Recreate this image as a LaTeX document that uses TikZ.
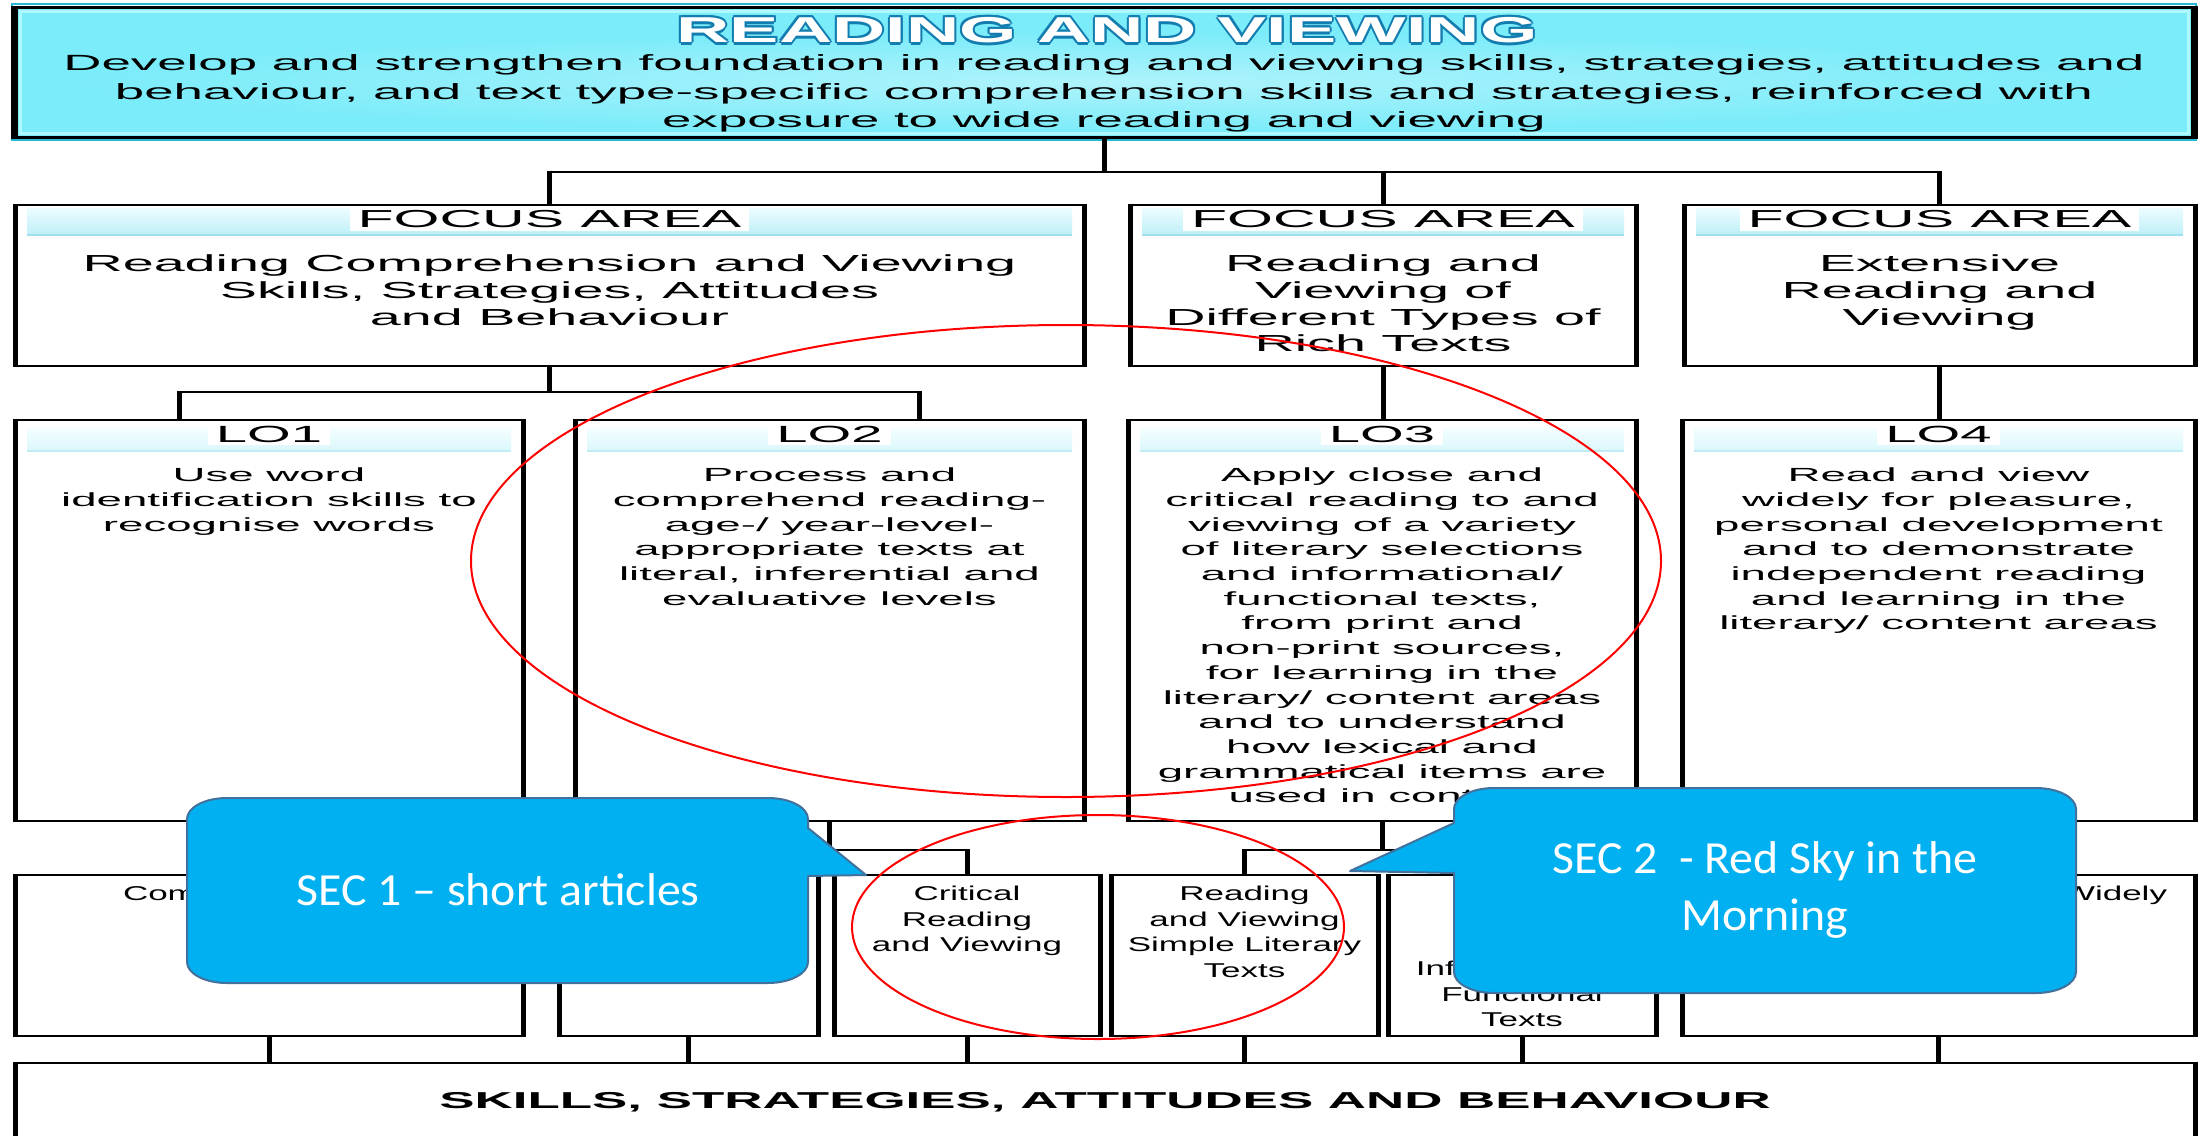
\documentclass[tikz,border=0pt]{standalone}
\usepackage{fontspec}
\usetikzlibrary{fadings}

% wide sans faces used throughout the chart
\newfontfamily\fbody[FakeStretch=2.4]{Liberation Sans}
\newfontfamily\ftitle[FakeStretch=2.05]{Liberation Sans}
\newfontfamily\fskills[FakeStretch=2.3]{Liberation Sans}
\newfontfamily\frow[FakeStretch=1.75]{Liberation Sans}
\newfontfamily\fcall[FakeStretch=1.04]{Carlito}

\definecolor{topfill}{RGB}{122,236,250}
\definecolor{toprim}{RGB}{175,248,255}
\definecolor{topedge}{RGB}{40,185,210}
\definecolor{titleedge}{RGB}{20,125,175}
\definecolor{bandtop}{RGB}{236,252,255}
\definecolor{bandbot}{RGB}{190,239,247}
\definecolor{bandline}{RGB}{160,224,236}
\definecolor{lobandtop}{RGB}{244,254,255}
\definecolor{lobandbot}{RGB}{218,247,251}
\definecolor{lobandline}{RGB}{192,236,244}
\definecolor{callfill}{RGB}{0,176,240}
\definecolor{calledge}{RGB}{65,113,156}
\definecolor{markred}{RGB}{255,0,0}

% soft light patch for the banner
\tikzfading[name=softglow, inner color=transparent!0, outer color=transparent!100]

% box: name, x1, y1, x2, y2 (thin horizontal edges, heavy vertical edges)
\newcommand\mkbox[5]{%
  \node[box, minimum width={(#4-#2)*1pt}, minimum height={(#5-#3)*1pt}]
    (#1) at ({(#2+#4)/2},{(#3+#5)/2}) {};
  \draw[hl] (#1.north west) -- (#1.north east) (#1.south west) -- (#1.south east);
  \draw[vl] ([yshift=1.35pt]#1.north west) -- ([yshift=-1.35pt]#1.south west)
            ([yshift=1.35pt]#1.north east) -- ([yshift=-1.35pt]#1.south east);}

% header band: node, top offset, bottom offset, colour prefix
\newcommand\hdrband[4]{%
  \shade[top color=#4top, bottom color=#4bot]
    ([xshift=12pt,yshift=-#2pt]#1.north west) rectangle ([xshift=-12pt,yshift=-#3pt]#1.north east);
  \draw[#4line, line width=2.5pt]
    ([xshift=12pt,yshift=-#3pt]#1.north west) -- ([xshift=-12pt,yshift=-#3pt]#1.north east);}

\begin{document}
\begin{tikzpicture}[x=1pt,y=-1pt,
  hl/.style={line width=2.7pt, line cap=rect},
  vl/.style={line width=5pt, line cap=butt},
  drop/.style={vl, shorten <=-1.35pt},
  box/.style={rectangle, fill=white, draw=none, inner sep=0pt, outer sep=0pt},
  txt/.style={inner sep=0pt, outer sep=0pt, align=center, anchor=north},
  fahead/.style={fill=white, inner xsep=8pt, inner ysep=0pt, minimum height=24pt,
    font=\fbody\fontsize{24.6}{26}\selectfont},
  lohead/.style={fill=white, inner xsep=8pt, inner ysep=0pt, minimum height=22pt,
    font=\fbody\fontsize{23.4}{26}\selectfont},
  fatext/.style={txt, font=\fbody\fontsize{23.2}{26.7}\selectfont},
  lotext/.style={txt, font=\fbody\fontsize{19}{24.7}\selectfont},
  rowtext/.style={txt, font=\frow\fontsize{20}{25.5}\selectfont},
  callout/.style={fill=callfill, draw=calledge, line width=2pt, line join=round},
  calltext/.style={inner sep=0pt, align=center, text=white,
    font=\fcall\fontsize{46}{57}\selectfont},
  redring/.style={draw=markred, line width=2pt}]

\useasboundingbox (0,0) rectangle (2203,1135);
\clip (0,0) rectangle (2203,1135);
\fill[white] (0,0) rectangle (2203,1135);

% ---------- top box ----------
\node[box, fill=topfill, minimum width=2180pt, minimum height=130pt] (top) at (1104,72) {};
\fill[white, fill opacity=0.4, path fading=softglow] (40,30) rectangle (2168,134);
\draw[toprim, line width=3pt] ([xshift=6pt,yshift=-4pt]top.north west) rectangle ([xshift=-6pt,yshift=4pt]top.south east);
\draw[topedge, line width=2pt] ([xshift=-2pt,yshift=3pt]top.north west) rectangle ([xshift=2pt,yshift=-3pt]top.south east);
\draw[line width=3pt, line cap=rect] (top.north west) -- (top.north east) (top.south west) -- (top.south east);
\draw[line width=7pt] ([yshift=1.5pt]top.north west) -- ([yshift=-1.5pt]top.south west)
                      ([yshift=1.5pt]top.north east) -- ([yshift=-1.5pt]top.south east);

\foreach \dx/\dy [count=\i] in {2/0,-2/0,0/2,0/-2,1.5/1.5,-1.5/1.5,1.5/-1.5,-1.5/-1.5,0/-3.5}
  \node[inner sep=0pt, text=titleedge, font=\ftitle\bfseries\fontsize{36}{40}\selectfont]
    (titleedge\i) at ([xshift=\dx pt,yshift=\dy pt]1107,30) {READING AND VIEWING};
\node[inner sep=0pt, text=white, font=\ftitle\bfseries\fontsize{36}{40}\selectfont]
  (title) at (1107,30) {READING AND VIEWING};
\node[txt, font=\fbody\fontsize{22}{28.5}\selectfont] (desc) at (1104,55)
  {Develop and strengthen foundation in reading and viewing skills, strategies, attitudes and\\
   behaviour, and text type-specific comprehension skills and strategies, reinforced with\\
   exposure to wide reading and viewing};

% ---------- focus areas ----------
\mkbox{f1}{15}{205}{1084}{366}
\mkbox{f2}{1130}{205}{1636}{366}
\mkbox{f3}{1684}{205}{2195}{366}
\foreach \n in {f1,f2,f3} {
  \hdrband{\n}{3}{30}{band}
  \node[fahead] (\n head) at (\n.north |- 0,219) {FOCUS AREA};
}
\node[fatext] (f1txt) at (f1.north |- 0,255)
  {Reading Comprehension and Viewing\\Skills, Strategies, Attitudes\\and Behaviour};
\node[fatext] (f2txt) at (f2.north |- 0,255)
  {Reading and\\Viewing of\\Different Types of\\Rich Texts};
\node[fatext] (f3txt) at (f3.north |- 0,255)
  {Extensive\\Reading and\\Viewing};

% ---------- learning outcomes ----------
\mkbox{lo1}{15}{420}{523}{821}
\mkbox{lo2}{575}{420}{1084}{821}
\mkbox{lo3}{1128}{420}{1636}{821}
\mkbox{lo4}{1682}{420}{2195}{821}
\foreach \n/\t in {lo1/LO1,lo2/LO2,lo3/LO3,lo4/LO4} {
  \hdrband{\n}{8}{31}{loband}
  \node[lohead] (\n head) at (\n.north |- 0,434) {\t};
}
\node[lotext] (lo1txt) at (lo1.north |- 0,468)
  {Use word\\identification skills to\\recognise words};
\node[lotext] (lo2txt) at (lo2.north |- 0,468)
  {Process and\\comprehend reading-\\age-/ year-level-\\appropriate texts at\\literal, inferential and\\evaluative levels};
\node[lotext] (lo3txt) at (lo3.north |- 0,468)
  {Apply close and\\critical reading to and\\viewing of a variety\\of literary selections\\and informational/\\functional texts,\\from print and\\non-print sources,\\for learning in the\\literary/ content areas\\and to understand\\how lexical and\\grammatical items are\\used in context};
\node[lotext] (lo4txt) at (lo4.north |- 0,468)
  {Read and view\\widely for pleasure,\\personal development\\and to demonstrate\\independent reading\\and learning in the\\literary/ content areas};

% ---------- sub-areas ----------
\mkbox{ra}{15}{875}{523}{1036}
\mkbox{rb}{559}{875}{818}{1036}
\mkbox{rc}{834}{875}{1100}{1036}
\mkbox{rd}{1111}{875}{1378}{1036}
\mkbox{re}{1388}{875}{1656}{1036}
\mkbox{rf}{1682}{875}{2195}{1036}
\node[rowtext, anchor=north west] (ratxt) at (123,886) {Comprehension};
\node[rowtext] (rctxt) at (rc.north |- 0,886) {Critical\\Reading\\and Viewing};
\node[rowtext] (rdtxt) at (rd.north |- 0,886) {Reading\\and Viewing\\Simple Literary\\Texts};
\node[rowtext] (retxt) at (re.north |- 0,961) {Informational/\\Functional\\Texts};
\node[rowtext, anchor=north east] (rftxt) at (2167,886) {Widely};

% ---------- skills base ----------
\mkbox{skills}{15}{1063}{2195}{1170}
\node[inner sep=0pt, font=\fskills\bfseries\fontsize{23}{26}\selectfont] (skillstxt) at (1105,1102)
  {SKILLS, STRATEGIES, ATTITUDES AND BEHAVIOUR};

% ---------- connectors ----------
\coordinate (busA) at (0,172);
\draw[vl] (top.south) -- (top.south |- busA);
\draw[hl] (f1.north |- busA) -- (f3.north |- busA);
\foreach \n in {f1,f2,f3} \draw[drop] (\n.north |- busA) -- (\n.north);

\coordinate (j1) at (179,392);
\coordinate (j2) at (919,392);
\draw[vl] (f1.south) -- (f1.south |- j1);
\draw[hl] (j1) -- (j2);
\draw[drop] (j1) -- (j1 |- lo1.north);
\draw[drop] (j2) -- (j2 |- lo2.north);
\draw[vl] (f2.south) -- (f2.south |- lo3.north);
\draw[vl] (f3.south) -- (f3.south |- lo4.north);

\coordinate (busB) at (0,850);
\draw[vl] (lo1.south) -- (lo1.south |- ra.north);
\draw[vl] (lo2.south) -- (lo2.south |- busB);
\draw[hl] (rb.north |- busB) -- (rc.north |- busB);
\draw[drop] (rb.north |- busB) -- (rb.north);
\draw[drop] (rc.north |- busB) -- (rc.north);
\draw[vl] (lo3.south) -- (lo3.south |- busB);
\draw[hl] (rd.north |- busB) -- (re.north |- busB);
\draw[drop] (rd.north |- busB) -- (rd.north);
\draw[drop] (re.north |- busB) -- (re.north);
\draw[vl] (lo4.south) -- (lo4.south |- rf.north);
\foreach \n in {ra,rb,rc,rd,re,rf} \draw[vl] (\n.south) -- (\n.south |- skills.north);

% ---------- red rings ----------
\draw[redring] (1066,561) ellipse [x radius=595, y radius=236];
\draw[redring] (1098,927) ellipse [x radius=246, y radius=112];

% ---------- callouts ----------
\filldraw[callout] (227,798) -- (768,798)
  .. controls (790.1,798) and (808,807.4) .. (808,819)
  -- (808,828) -- (866,875) -- (808,876) -- (808,962)
  .. controls (808,973.6) and (790.1,983) .. (768,983)
  -- (227,983)
  .. controls (204.9,983) and (187,973.6) .. (187,962)
  -- (187,819)
  .. controls (187,807.4) and (204.9,798) .. (227,798) -- cycle;
\node[calltext] (sec1) at (498,890) {SEC 1 – short articles};

\filldraw[callout] (1494,788) -- (2036,788)
  .. controls (2058.1,788) and (2076,797.4) .. (2076,809)
  -- (2076,972)
  .. controls (2076,983.6) and (2058.1,993) .. (2036,993)
  -- (1494,993)
  .. controls (1471.9,993) and (1454,983.6) .. (1454,972)
  -- (1454,873) -- (1350,871) -- (1454,823) -- (1454,809)
  .. controls (1454,797.4) and (1471.9,788) .. (1494,788) -- cycle;
\node[calltext] (sec2) at (1765,890) {SEC 2\ \ - Red Sky in the\\Morning};
\end{tikzpicture}
\end{document}
